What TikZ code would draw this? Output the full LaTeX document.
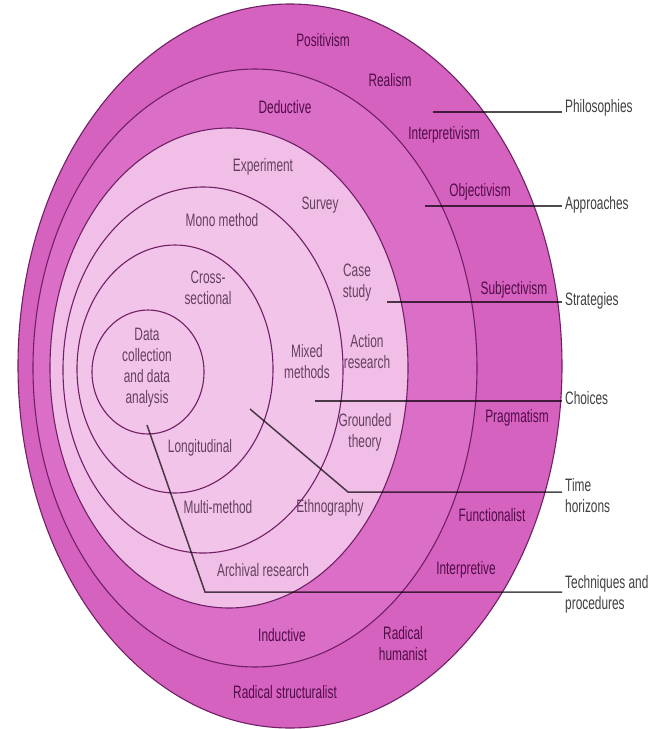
\documentclass[tikz,border=0pt]{standalone}
\usepackage{fontspec}
\setmainfont[FakeStretch=0.66]{Liberation Sans}
\begin{document}
\begin{tikzpicture}[x=1pt,y=-1pt,
  ringedge/.style={draw=edgec, line width=1.1pt},
  ringtxt/.style={text=darktxt, font=\fontsize{18}{21}\selectfont, align=center, inner sep=1pt},
  innertxt/.style={text=lighttxt, font=\fontsize{18}{21}\selectfont, align=center, inner sep=1pt},
  rlab/.style={text=labtxt, font=\fontsize{18}{21}\selectfont, align=left, anchor=west, inner sep=3pt},
  leader/.style={draw=linec, line width=1.5pt}]
\definecolor{ringA}{RGB}{214,98,192}
\definecolor{ringB}{RGB}{219,110,199}
\definecolor{ringC}{RGB}{240,190,231}
\definecolor{ringD}{RGB}{242,196,234}
\definecolor{edgec}{RGB}{112,32,100}
\definecolor{linec}{RGB}{78,74,78}
\definecolor{darktxt}{RGB}{80,12,72}
\definecolor{lighttxt}{RGB}{100,64,96}
\definecolor{labtxt}{RGB}{64,64,64}
\useasboundingbox (0,0) rectangle (666,729);
\fill[white] (0,0) rectangle (666,729);
% onion rings
\filldraw[fill=ringA, ringedge] (290,366) ellipse [x radius=272, y radius=362];
\filldraw[fill=ringB, ringedge] (255,368) ellipse [x radius=222, y radius=299];
\filldraw[fill=ringC, ringedge] (229,368) ellipse [x radius=179, y radius=240];
\filldraw[fill=ringD, ringedge] (203,370) ellipse [x radius=140, y radius=183];
\filldraw[fill=ringD, ringedge] (175,369) ellipse [x radius=98, y radius=124];
\filldraw[fill=ringD, ringedge] (148,372) ellipse [x radius=56, y radius=62];
% ring texts
\node[ringtxt] (positivism) at (323,40) {Positivism};
\node[ringtxt] (realism) at (390,80) {Realism};
\node[ringtxt] (interpretivism) at (444,135) {Interpretivism};
\node[ringtxt] (objectivism) at (480,192) {Objectivism};
\node[ringtxt] (subjectivism) at (514,290) {Subjectivism};
\node[ringtxt] (pragmatism) at (517,418) {Pragmatism};
\node[ringtxt] (functionalist) at (492,515) {Functionalist};
\node[ringtxt] (interpretive) at (466,570) {Interpretive};
\node[ringtxt] (radhum) at (403,644) {Radical\\humanist};
\node[ringtxt] (radstr) at (285,692) {Radical structuralist};
\node[ringtxt] (deductive) at (285,107) {Deductive};
\node[ringtxt] (inductive) at (282,635) {Inductive};
% inner texts
\node[innertxt] (experiment) at (263,167) {Experiment};
\node[innertxt] (survey) at (320,205) {Survey};
\node[innertxt] (casestudy) at (357,283) {Case\\study};
\node[innertxt] (action) at (367,352) {Action\\research};
\node[innertxt] (grounded) at (365,432) {Grounded\\theory};
\node[innertxt] (ethno) at (330,508) {Ethnography};
\node[innertxt] (archival) at (263,570) {Archival research};
\node[innertxt] (mono) at (222,220) {Mono method};
\node[innertxt] (mixed) at (307,362) {Mixed\\methods};
\node[innertxt] (multi) at (218,507) {Multi-method};
\node[innertxt] (cross) at (208,288) {Cross-\\sectional};
\node[innertxt] (longi) at (200,448) {Longitudinal};
\node[innertxt] (data) at (147,368) {Data\\collection\\and data\\analysis};
% right labels
\node[rlab] (lphil) at (562,108) {Philosophies};
\node[rlab] (lappr) at (562,205) {Approaches};
\node[rlab] (lstrat) at (562,301) {Strategies};
\node[rlab] (lchoi) at (562,398) {Choices};
\node[rlab] (ltime) at (562,496) {Time\\horizons};
\node[rlab] (ltech) at (562,594) {Techniques and\\procedures};
% leader start points
\coordinate (sphil) at (433,112);
\coordinate (sappr) at (425,206);
\coordinate (sstrat) at (387,302);
\coordinate (schoi) at (315,401);
\coordinate (stime) at (250,409);
\coordinate (btime) at (348,492);
\coordinate (stech) at (147,425);
\coordinate (btech) at (205,592);
\begin{scope}[blend mode=multiply]
\draw[leader] (sphil) -- (sphil -| lphil.west);
\draw[leader] (sappr) -- (sappr -| lappr.west);
\draw[leader] (sstrat) -- (sstrat -| lstrat.west);
\draw[leader] (schoi) -- (schoi -| lchoi.west);
\draw[leader] (stime) -- (btime) -- (btime -| ltime.west);
\draw[leader] (stech) -- (btech) -- (btech -| ltech.west);
\end{scope}
\end{tikzpicture}
\end{document}
